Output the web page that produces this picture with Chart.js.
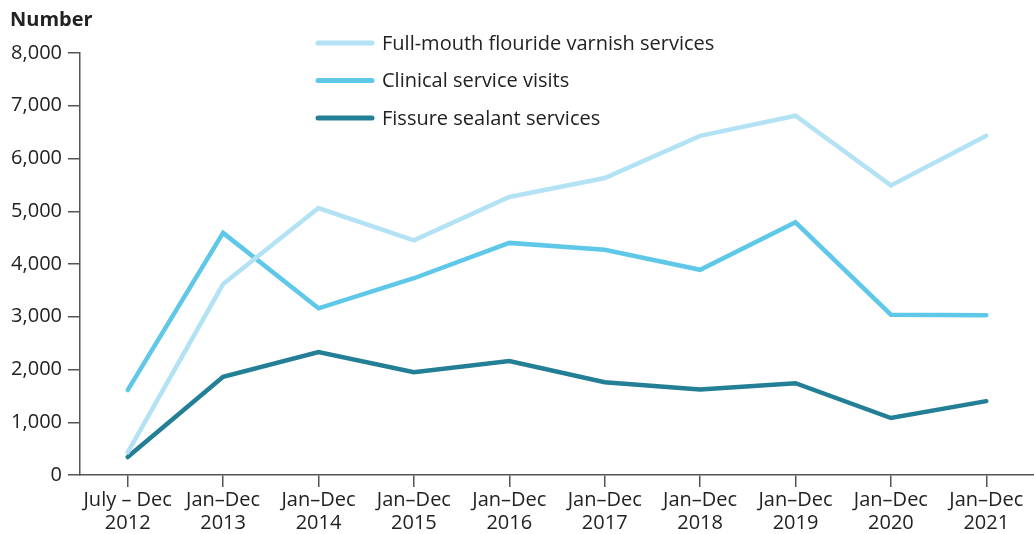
<!DOCTYPE html>
<html>
<head>
<meta charset="utf-8">
<script src="https://cdn.jsdelivr.net/npm/chart.js@4/dist/chart.umd.min.js"></script>
<style>
  html, body { margin: 0; padding: 0; background: #fff; }
  #wrap { width: 1034px; height: 534px; }
</style>
</head>
<body>
<div id="wrap"><canvas id="chart" width="1034" height="534"></canvas></div>
<script>
// Category labels (two lines each)
const periods = [
  ['July – Dec', '2012'], ['Jan–Dec', '2013'], ['Jan–Dec', '2014'], ['Jan–Dec', '2015'],
  ['Jan–Dec', '2016'], ['Jan–Dec', '2017'], ['Jan–Dec', '2018'], ['Jan–Dec', '2019'],
  ['Jan–Dec', '2020'], ['Jan–Dec', '2021']
];

// Series values
const varnish = [430, 3620, 5060, 4450, 5270, 5630, 6430, 6810, 5490, 6430];
const visits = [1610, 4590, 3160, 3730, 4400, 4270, 3890, 4790, 3040, 3030];
const sealant = [340, 1860, 2330, 1950, 2160, 1760, 1620, 1740, 1080, 1400];

const seriesNames = ['Full-mouth flouride varnish services', 'Clinical service visits', 'Fissure sealant services'];
const seriesColors = ['#b3e2f5', '#5fc8e8', '#237f96'];

const yMax = 8000;
const yStep = 1000;
const yTitle = 'Number';

const FONT = "'Open Sans', 'Noto Sans', sans-serif";
const TEXT = '#222';

// draws the "Number" heading and the legend at fixed spots
const overlay = {
  id: 'overlay',
  afterDraw(chart) {
    const c = chart.ctx;
    c.save();
    c.fillStyle = TEXT;
    c.textBaseline = 'middle';
    c.font = `bold 20px ${FONT}`;
    c.fillText(yTitle, 10, 20);

    c.font = `20px ${FONT}`;
    chart.data.datasets.forEach((ds, i) => {
      const y = 43 + i * 37.5;
      c.strokeStyle = ds.borderColor;
      c.lineWidth = 5;
      c.lineCap = 'round';
      c.beginPath();
      c.moveTo(318, y);
      c.lineTo(372, y);
      c.stroke();
      c.fillStyle = TEXT;
      c.fillText(ds.label, 382, y + 1);
    });
    c.restore();
  }
};

const mkSet = (label, data, color) => ({
  label, data,
  borderColor: color,
  backgroundColor: color,
  borderWidth: 4.5,
  borderCapStyle: 'round',
  borderJoinStyle: 'miter',
  pointRadius: 0,
  tension: 0,
  fill: false
});

new Chart(document.getElementById('chart'), {
  type: 'line',
  data: {
    labels: periods,
    datasets: [
      mkSet(seriesNames[0], varnish, seriesColors[0]),
      mkSet(seriesNames[1], visits, seriesColors[1]),
      mkSet(seriesNames[2], sealant, seriesColors[2])
    ]
  },
  options: {
    responsive: false,
    animation: false,
    layout: { padding: { top: 53, right: 0, left: 0, bottom: 0 } },
    plugins: {
      legend: { display: false },
      tooltip: { enabled: false }
    },
    scales: {
      x: {
        offset: true,
        grid: { display: true, drawOnChartArea: false, drawTicks: true, tickLength: 12, color: '#555', lineWidth: 1.5 },
        border: { display: true, color: '#555', width: 1.5 },
        ticks: { color: TEXT, font: { family: FONT, size: 20, lineHeight: 1.15 }, padding: 2, maxRotation: 0, autoSkip: false },
        afterFit: s => { s.height = 59; }
      },
      y: {
        min: 0, max: yMax,
        grid: { display: true, drawOnChartArea: false, drawTicks: true, tickLength: 12, color: '#555', lineWidth: 1.5 },
        border: { display: true, color: '#555', width: 1.5 },
        ticks: {
          stepSize: yStep,
          color: TEXT,
          font: { family: FONT, size: 20 },
          padding: 6,
          callback: v => v.toLocaleString('en-US')
        },
        afterFit: s => { s.width = 80; }
      }
    }
  },
  plugins: [overlay]
});
</script>
</body>
</html>
